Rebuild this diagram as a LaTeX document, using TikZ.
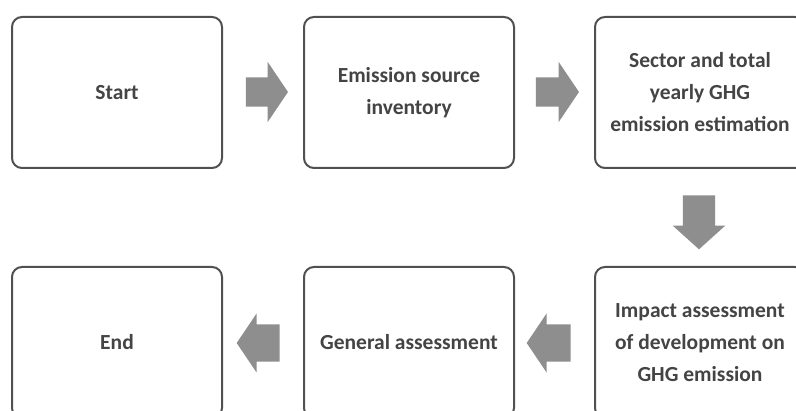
\documentclass[tikz,border=0pt]{standalone}
\usepackage{fontspec}
\setmainfont{Carlito}
\usetikzlibrary{shapes.arrows}
\definecolor{boxline}{HTML}{505050}
\definecolor{boxtext}{HTML}{444444}
\definecolor{arrowfill}{HTML}{8E8E8E}
\tikzstyle{stage}=[draw=boxline, line width=2pt, rounded corners=10pt, minimum width=210pt, minimum height=151pt, text=boxtext, align=center, font=\fontsize{21.5}{32}\selectfont\bfseries]
\tikzstyle{flow}=[single arrow, fill=arrowfill, draw=none, inner xsep=0pt, single arrow head indent=0pt]

\begin{document}
\begin{tikzpicture}[x=1pt, y=-1pt]
				\path[use as bounding box, fill=white] (0,0) rectangle (796,411);
				\clip (0,0) rectangle (796,411);
				\node[stage] (start) at (117,92.5) {Start};
				\node[stage] (inventory) at (409,92.5) {Emission source\\inventory};
				\node[stage] (sector) at (700,92.5) {Sector and total\\yearly GHG\\emission estimation};
				\node[stage] (impact) at (700,342.5) {Impact assessment\\of development on\\GHG emission};
				\node[stage] (general) at (409,342.5) {General assessment};
				\node[stage] (end) at (117,342.5) {End};
				\node[flow, inner ysep=14.5pt, single arrow head extend=15.5pt, single arrow tip angle=112, minimum height=42pt] (a1) at (262,92) {};
				\node[flow, inner ysep=14.5pt, single arrow head extend=15.5pt, single arrow tip angle=112, minimum height=43pt] (a2) at (552.5,92) {};
				\node[flow, inner ysep=16pt, single arrow head extend=10pt, single arrow tip angle=96, minimum height=54pt, rotate=-90] (a3) at (699,215) {};
				\node[flow, inner ysep=18.5pt, single arrow head extend=11pt, single arrow tip angle=112, minimum height=44pt, shape border rotate=180] (a4) at (555,343) {};
				\node[flow, inner ysep=18.5pt, single arrow head extend=11pt, single arrow tip angle=112, minimum height=43pt, shape border rotate=180] (a5) at (264.5,343) {};
			\end{tikzpicture}
\end{document}
